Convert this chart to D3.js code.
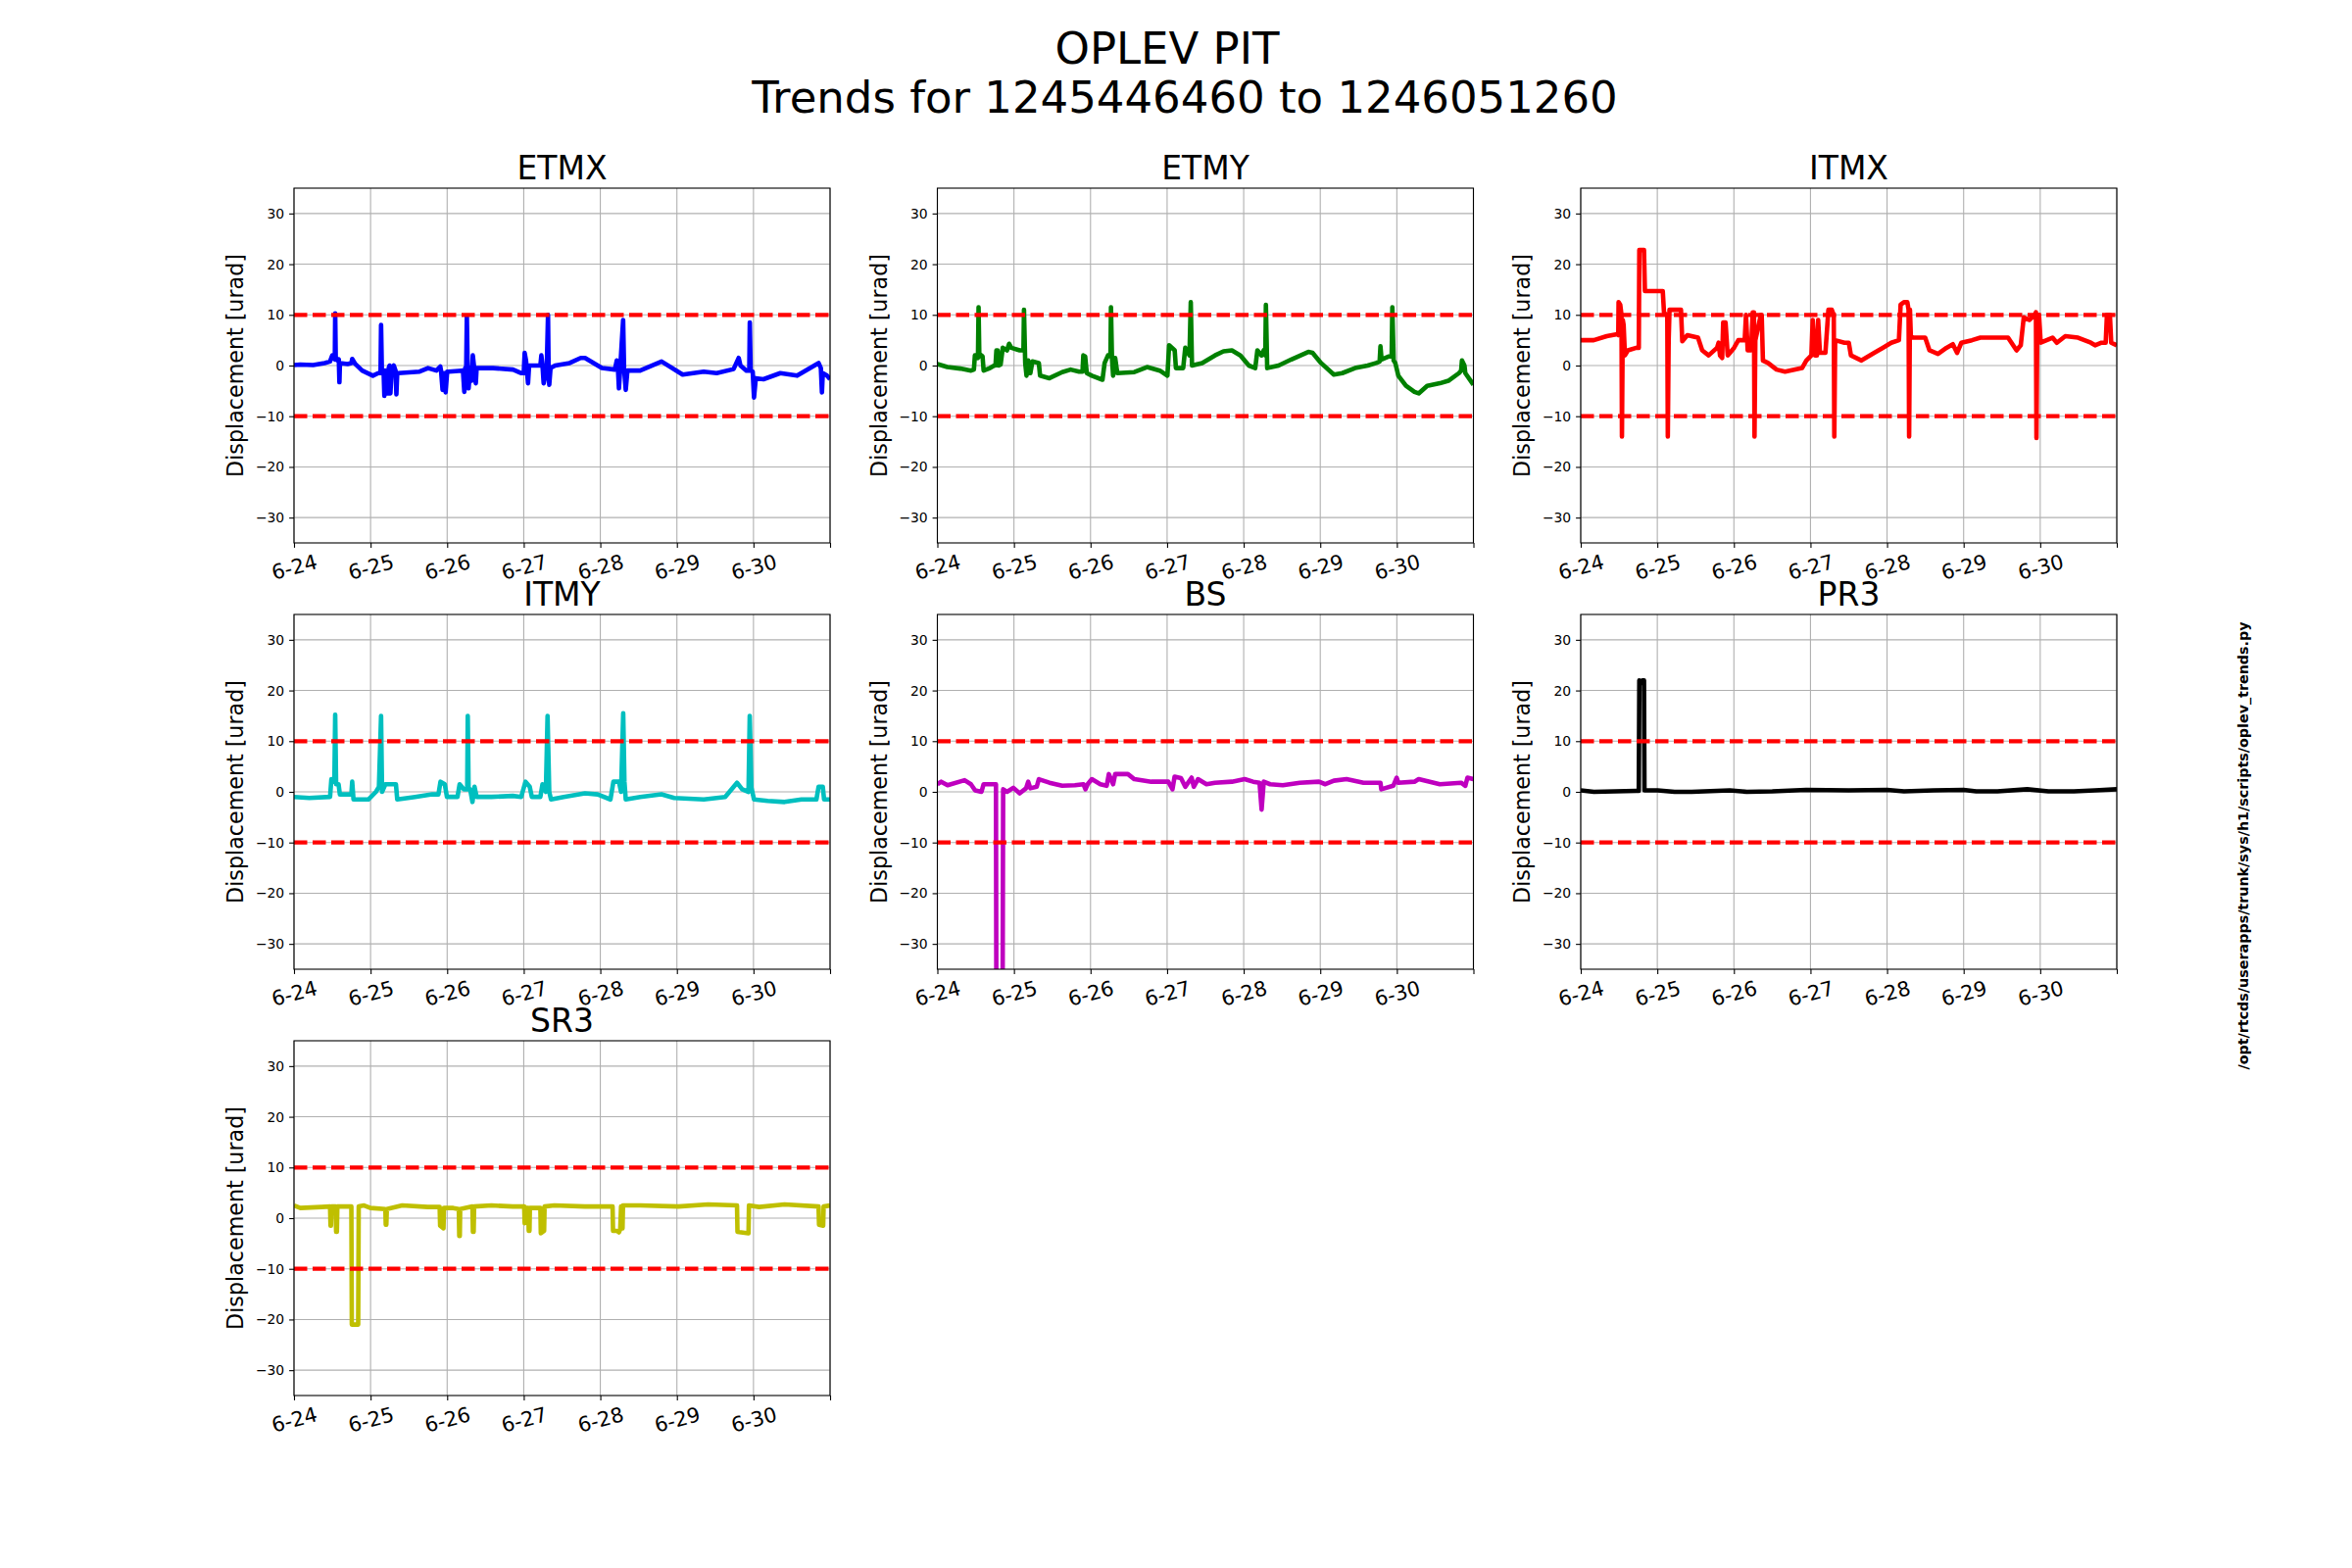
<!DOCTYPE html>
<html><head><meta charset="utf-8">
<script src="https://cdn.jsdelivr.net/npm/d3@7"></script>
<style>
body{margin:0;background:#fff}
svg{display:block}
text{font-family:"DejaVu Sans",sans-serif;fill:#000}
</style>
</head><body>
<svg id="chart" width="2400" height="1600"></svg>
<script>
// ---------- data ----------
const suptitleLines = ["OPLEV PIT", "Trends for 1245446460 to 1246051260"];
const scriptPath = "/opt/rtcds/userapps/trunk/sys/h1/scripts/oplev_trends.py";
const panelNames = ["ETMX", "ETMY", "ITMX", "ITMY", "BS", "PR3", "SR3"];
const panelColors = ["#0000ff", "#008000", "#ff0000", "#00bfbf", "#bf00bf", "#000000", "#bfbf00"];
const yLabel = "Displacement [urad]";
const tickDays = [0, 1, 2, 3, 4, 5, 6, 7];
const tickLabels = ["6-24", "6-25", "6-26", "6-27", "6-28", "6-29", "6-30", ""];
const yTicks = [-30, -20, -10, 0, 10, 20, 30];
const thresholds = [10, -10];

// [day offset from 6-24 00:00, displacement urad]
const etmx = [[0,0.1],[0.083,0.2],[0.25,0.1],[0.40,0.5],[0.47,0.8],[0.50,2],[0.52,1.5],[0.533,1.2],[0.538,10.3],[0.545,1.5],[0.57,1.0],[0.585,1.2],[0.593,-3.3],[0.60,0.5],[0.70,0.3],[0.75,0.5],[0.76,1.3],[0.80,0.3],[0.89,-1],[1.03,-2],[1.10,-1.5],[1.130,-1.5],[1.137,8.0],[1.148,-1.5],[1.17,-1],[1.18,-6],[1.19,-1],[1.20,-1.5],[1.226,-5.5],[1.237,-0.5],[1.248,0],[1.259,-5.5],[1.276,-0.5],[1.303,0],[1.326,-1],[1.337,-5.7],[1.348,-1.5],[1.36,-1.5],[1.64,-1.2],[1.75,-0.5],[1.86,-1],[1.91,-0.2],[1.92,-1],[1.94,-4.8],[1.96,-1.5],[1.98,-5.3],[2.0,-1.2],[2.02,-1.2],[2.19,-1],[2.207,-1.2],[2.224,-5.2],[2.235,-0.5],[2.246,-4],[2.257,9.8],[2.268,-1],[2.28,-4.5],[2.30,-0.5],[2.318,-3],[2.335,2],[2.357,-1],[2.374,-3.5],[2.385,-0.5],[2.41,-0.5],[2.6,-0.5],[2.86,-0.8],[2.97,-1.5],[3.0,-1.5],[3.012,2.5],[3.03,1],[3.056,-3.5],[3.07,0],[3.106,0],[3.217,0],[3.23,2],[3.245,0],[3.26,-3.5],[3.30,-1],[3.317,10],[3.325,-1],[3.333,-3.8],[3.35,-0.5],[3.41,0],[3.60,0.5],[3.744,1.5],[3.80,1.5],[4.02,-0.5],[4.19,-0.8],[4.215,1],[4.23,-0.5],[4.243,-4.5],[4.26,-0.5],[4.298,9],[4.31,-0.5],[4.332,-4.8],[4.354,-1],[4.52,-1],[4.80,0.8],[5.075,-1.8],[5.35,-1.2],[5.52,-1.5],[5.74,-0.7],[5.807,1.5],[5.83,0],[5.907,-1],[5.945,-1],[5.952,8.5],[5.963,-1],[5.99,-1.2],[6.007,-6.3],[6.03,-2.5],[6.13,-2.7],[6.35,-1.5],[6.57,-2],[6.85,0.5],[6.88,-0.5],[6.894,-5.3],[6.905,-1.5],[6.96,-2],[7.0,-2.7]];

const etmy = [[0,0.3],[0.13,-0.3],[0.30,-0.6],[0.44,-1],[0.477,-0.8],[0.49,2],[0.51,2],[0.530,1.5],[0.538,11.5],[0.548,1.8],[0.576,2],[0.59,1.8],[0.604,-1],[0.687,-0.5],[0.743,0],[0.759,0],[0.771,3],[0.787,3],[0.80,0],[0.826,0.2],[0.854,3.5],[0.909,3],[0.937,4.3],[0.965,3.5],[1.075,3.0],[1.124,3],[1.131,11],[1.147,0.5],[1.164,-2],[1.186,1],[1.214,-1.5],[1.241,0.8],[1.325,0.5],[1.341,-2],[1.463,-2.5],[1.629,-1.3],[1.74,-0.8],[1.851,-1.2],[1.895,-1.2],[1.906,2],[1.93,1.8],[1.951,-1.5],[2.017,-2],[2.156,-2.8],[2.184,0.5],[2.228,2],[2.26,1.8],[2.267,11.5],[2.28,1.5],[2.295,-2],[2.322,1.5],[2.35,-1.5],[2.572,-1.3],[2.738,-0.3],[2.905,-1],[3.004,-2],[3.026,4],[3.099,3],[3.115,-0.5],[3.21,-0.5],[3.237,3.5],[3.292,2],[3.309,12.5],[3.325,0],[3.458,0.5],[3.625,2],[3.736,2.8],[3.846,3],[3.957,2],[4.068,0],[4.151,-0.5],[4.179,3],[4.234,2],[4.262,3],[4.282,2],[4.29,12],[4.307,-0.5],[4.456,0],[4.622,1.2],[4.844,2.7],[4.899,2.5],[5.01,0.5],[5.177,-1.8],[5.287,-1.5],[5.454,-0.5],[5.62,0],[5.731,0.5],[5.775,0.8],[5.786,3.8],[5.80,1.2],[5.897,1.8],[5.932,1.8],[5.941,11.5],[5.958,1],[5.98,0.5],[6.019,-2],[6.119,-4],[6.23,-5.2],[6.285,-5.5],[6.396,-4],[6.562,-3.5],[6.673,-3],[6.811,-1.5],[6.839,-1],[6.85,1],[6.883,0],[6.894,-1.5],[7,-3.8]];

const itmx = [[0,5],[0.17,5],[0.34,5.8],[0.477,6.2],[0.49,6],[0.494,12.5],[0.516,12],[0.532,10],[0.538,-14],[0.549,9],[0.56,8],[0.577,2],[0.616,3],[0.727,3.5],[0.758,3.5],[0.765,22.8],[0.826,22.8],[0.838,14.7],[1.071,14.7],[1.087,10.5],[1.115,10],[1.130,10],[1.137,-14],[1.148,5],[1.159,11],[1.254,11],[1.309,11],[1.326,4.8],[1.392,6],[1.531,5.5],[1.586,3],[1.67,2],[1.78,3.5],[1.80,4.5],[1.819,2],[1.847,1.5],[1.86,8.5],[1.891,8.5],[1.919,2],[2.002,3.5],[2.058,5],[2.141,5],[2.158,10],[2.18,3],[2.224,3],[2.246,10.5],[2.262,10.5],[2.269,-14],[2.28,5],[2.352,10],[2.363,10],[2.379,1],[2.446,0.5],[2.557,-0.8],[2.668,-1.2],[2.89,-0.5],[2.946,1],[3.012,2],[3.029,9],[3.057,2],[3.084,2],[3.1,9],[3.123,2.5],[3.195,2.5],[3.234,11],[3.278,11],[3.304,10],[3.311,-14],[3.322,5],[3.444,4.5],[3.5,4.5],[3.528,2],[3.666,1],[3.833,2.5],[3.944,3.5],[4.055,4.5],[4.155,5],[4.177,12],[4.221,12.5],[4.265,12.5],[4.281,11],[4.288,-14],[4.299,11],[4.31,6],[4.332,5.5],[4.498,5.5],[4.554,3],[4.665,2.3],[4.776,3.5],[4.859,4.2],[4.914,2.5],[4.97,4.5],[5.108,5],[5.219,5.5],[5.441,5.5],[5.58,5.5],[5.691,3],[5.746,4],[5.785,9.5],[5.857,9],[5.929,10],[5.944,10.5],[5.951,-14.3],[5.962,10],[5.984,10],[6.006,4.5],[6.161,5.5],[6.217,4.5],[6.328,5.8],[6.494,5.5],[6.661,4.5],[6.716,4],[6.8,4.5],[6.855,4.5],[6.871,10],[6.91,10],[6.927,4.5],[7,4]];

const itmy = [[0,-1],[0.2,-1.2],[0.471,-1],[0.488,2.5],[0.527,2],[0.538,15.2],[0.55,1.5],[0.582,1.5],[0.599,-0.5],[0.749,-0.5],[0.76,2],[0.777,-1.5],[0.971,-1.5],[1.07,0],[1.109,1],[1.137,15],[1.15,0],[1.193,1.5],[1.331,1.5],[1.348,-1.5],[1.581,-1],[1.803,-0.5],[1.886,-0.5],[1.913,2],[1.969,1.5],[1.997,-1],[2.135,-1],[2.163,1.5],[2.219,0.5],[2.262,0.5],[2.269,15],[2.28,0.5],[2.30,0.5],[2.33,-2],[2.357,1],[2.385,-1],[2.579,-1],[2.857,-0.8],[2.967,-1],[3.023,2],[3.078,1],[3.106,-1],[3.217,-1],[3.245,1.5],[3.289,0],[3.311,15],[3.333,0],[3.356,-1.5],[3.522,-1],[3.799,-0.3],[3.966,-0.5],[4.132,-1.5],[4.171,2],[4.243,2],[4.271,0],[4.299,15.5],[4.315,2],[4.332,-1.5],[4.521,-1],[4.798,-0.5],[4.964,-1.2],[5.352,-1.5],[5.63,-1],[5.785,1.8],[5.852,0.5],[5.935,0],[5.951,15],[5.973,0.8],[6.007,-1.5],[6.185,-1.8],[6.406,-2],[6.628,-1.5],[6.822,-1.5],[6.85,1],[6.905,1],[6.922,-1.5],[7,-1.5]];

const bs = [[0,1.5],[0.05,2],[0.133,1.3],[0.355,2.3],[0.438,1.5],[0.493,0.3],[0.576,0],[0.604,1.5],[0.743,1.5],[0.765,1.5],[0.77,-40],[0.852,-40],[0.859,0.5],[0.909,0],[0.992,0.8],[1.075,-0.3],[1.158,0.7],[1.186,2],[1.214,0.7],[1.297,1],[1.325,2.5],[1.463,1.8],[1.629,1.2],[1.796,1.3],[1.907,1.5],[1.934,0.5],[1.962,1.5],[2.017,2.5],[2.128,1.5],[2.211,1.2],[2.239,3.5],[2.295,1.5],[2.322,3.5],[2.378,3.5],[2.488,3.5],[2.572,2.5],[2.793,2],[3.015,2],[3.07,0.5],[3.098,3],[3.181,2.7],[3.237,1],[3.32,2.8],[3.348,1],[3.403,2.5],[3.514,1.5],[3.625,1.8],[3.846,2],[4.013,2.5],[4.123,2],[4.207,1.8],[4.234,-3.5],[4.262,2],[4.345,1.5],[4.511,1.3],[4.733,1.8],[4.983,2],[5.066,1.5],[5.177,2.2],[5.343,2.5],[5.565,1.8],[5.786,1.8],[5.797,0.5],[5.953,1.2],[5.997,2.8],[6.019,1.8],[6.23,2],[6.285,2.5],[6.562,1.5],[6.839,1.8],[6.894,1.2],[6.922,2.8],[7,2.5]];

const pr3 = [[0,0.3],[0.172,0],[0.727,0.2],[0.758,0.2],[0.765,22],[0.793,21.5],[0.804,22],[0.826,22],[0.832,0.3],[1.004,0.3],[1.226,0],[1.448,0],[1.947,0.3],[2.169,0],[2.502,0.1],[2.945,0.4],[3.5,0.3],[3.999,0.4],[4.221,0.1],[4.609,0.3],[4.998,0.4],[5.164,0.1],[5.441,0.1],[5.83,0.5],[6.107,0.1],[6.44,0.1],[6.717,0.3],[7,0.5]];

const sr3 = [[0,2.5],[0.083,2],[0.361,2.2],[0.471,2.3],[0.477,-1.5],[0.483,-1.5],[0.49,2.3],[0.544,2.3],[0.55,-2.7],[0.56,-2.7],[0.566,2.3],[0.749,2.3],[0.755,-21],[0.838,-21],[0.845,2.3],[0.915,2.5],[0.998,2],[1.193,1.8],[1.198,-1.3],[1.206,-1.3],[1.212,1.8],[1.414,2.5],[1.747,2.2],[1.902,2.2],[1.908,-1.5],[1.952,-2],[1.958,2],[2.08,2],[2.152,1.8],[2.158,-3.5],[2.165,-3.5],[2.17,1.8],[2.33,2.3],[2.336,-2.7],[2.346,-2.7],[2.352,2.3],[2.579,2.5],[2.857,2.3],[3.006,2.3],[3.012,-1],[3.03,-0.8],[3.035,2],[3.06,2],[3.065,-2.5],[3.075,-2.5],[3.08,2],[3.217,2],[3.223,-3],[3.266,-2.5],[3.272,2.3],[3.4,2.5],[3.799,2.3],[4.16,2.3],[4.166,-2.5],[4.215,-2.5],[4.243,-2.8],[4.26,-2.2],[4.271,2.3],[4.277,-2],[4.29,-2],[4.296,2.5],[4.52,2.5],[5.02,2.3],[5.408,2.7],[5.785,2.5],[5.791,-2.7],[5.935,-3],[5.941,2.5],[6.073,2.2],[6.406,2.7],[6.85,2.3],[6.856,-1.3],[6.91,-1.5],[6.916,2.3],[7,2.5]];

const panelSeries = [etmx, etmy, itmx, itmy, bs, pr3, sr3];

// ---------- layout ----------
const W = 547, H = 362;
const colX = [300, 956.5, 1613];
const rowY = [192, 627, 1062];

const svg = d3.select("#chart");
svg.append("rect").attr("width", 2400).attr("height", 1600).attr("fill", "#fff");

const fmtY = d => d < 0 ? "\u2212" + Math.abs(d) : String(d);

panelNames.forEach((name, i) => {
  const col = i % 3, row = Math.floor(i / 3);
  const g = svg.append("g").attr("transform", `translate(${colX[col]},${rowY[row]})`);
  const x = d3.scaleLinear().domain([0, 7]).range([0, W]);
  const y = d3.scaleLinear().domain([-35, 35]).range([H, 0]);

  g.append("clipPath").attr("id", "clip" + i)
    .append("rect").attr("width", W).attr("height", H);

  // grid
  g.append("g").selectAll("line").data(tickDays).join("line")
    .attr("x1", d => x(d)).attr("x2", d => x(d)).attr("y1", 0).attr("y2", H)
    .attr("stroke", "#b0b0b0").attr("stroke-width", 1.1);
  g.append("g").selectAll("line").data(yTicks).join("line")
    .attr("x1", 0).attr("x2", W).attr("y1", d => y(d)).attr("y2", d => y(d))
    .attr("stroke", "#b0b0b0").attr("stroke-width", 1.1);

  // data
  const line = d3.line().x(d => x(d[0])).y(d => y(d[1]));
  g.append("path").datum(panelSeries[i])
    .attr("d", line).attr("fill", "none")
    .attr("stroke", panelColors[i]).attr("stroke-width", 4.6)
    .attr("stroke-linejoin", "round").attr("stroke-linecap", "butt")
    .attr("clip-path", `url(#clip${i})`);

  // thresholds
  g.append("g").selectAll("line").data(thresholds).join("line")
    .attr("x1", x(0)).attr("x2", x(7)).attr("y1", d => y(d)).attr("y2", d => y(d))
    .attr("stroke", "#ff0000").attr("stroke-width", 4.2)
    .attr("stroke-dasharray", "13.5 5.5");

  // y axis
  const ya = g.append("g").call(d3.axisLeft(y).tickValues(yTicks).tickSize(4.9).tickPadding(4.9).tickFormat(fmtY));
  ya.select(".domain").remove();
  ya.selectAll(".tick line").attr("stroke", "#000").attr("stroke-width", 1.1);
  ya.selectAll(".tick text").attr("font-family", "DejaVu Sans").attr("font-size", 13.9).attr("fill", "#000");

  // x axis
  const xa = g.append("g").attr("transform", `translate(0,${H})`)
    .call(d3.axisBottom(x).tickValues(tickDays).tickSize(4.9).tickFormat((d, k) => tickLabels[k]));
  xa.select(".domain").remove();
  xa.selectAll(".tick line").attr("stroke", "#000").attr("stroke-width", 1.1);
  xa.selectAll(".tick text")
    .attr("font-family", "DejaVu Sans").attr("font-size", 20.8).attr("fill", "#000")
    .attr("y", null).attr("dy", null)
    .attr("text-anchor", "middle").attr("dominant-baseline", "central")
    .attr("transform", "translate(0,25) rotate(-15)");

  // spines
  g.append("rect").attr("width", W).attr("height", H)
    .attr("fill", "none").attr("stroke", "#000").attr("stroke-width", 1.1);

  // title
  g.append("text").attr("x", W / 2).attr("y", -9)
    .attr("text-anchor", "middle").attr("font-size", 33).text(name);

  // y label
  g.append("text").attr("transform", `translate(-52,${H / 2}) rotate(-90)`)
    .attr("text-anchor", "middle").attr("font-size", 22.2).text(yLabel);
});

// suptitle
svg.append("text").attr("x", 1191).attr("y", 65).attr("text-anchor", "middle")
  .attr("font-size", 45).text(suptitleLines[0]);
svg.append("text").attr("x", 1209).attr("y", 115).attr("text-anchor", "middle")
  .attr("font-size", 45).text(suptitleLines[1]);

// script path
svg.append("text").attr("transform", "translate(2294,863) rotate(-90)")
  .attr("text-anchor", "middle").attr("font-size", 14.3).attr("font-weight", "bold")
  .text(scriptPath);
</script>
</body></html>
